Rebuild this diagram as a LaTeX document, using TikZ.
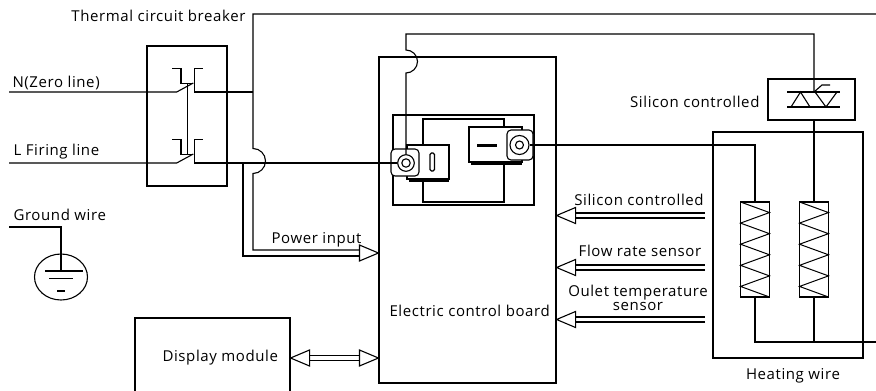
\documentclass[tikz,border=0pt]{standalone}
\usepackage{fontspec}
\setmainfont{Open Sans}[LetterSpace=4]
\begin{document}
\begin{tikzpicture}[x=1pt,y=-1pt,line width=1.1pt,line join=miter,
  box/.style={draw,rectangle,inner sep=0pt,line width=1.1pt},
  lbl/.style={inner sep=0pt,font=\fontsize{15}{16}\selectfont},
  dbl/.style={double,double distance=3.9pt,line width=1.1pt},
  openhead/.pic={\draw[line width=1.1pt,fill=white] (0,0) -- (-19,-8) -- (-19,8) -- cycle;},
  heater/.pic={\draw[line width=1pt] (-14.5,-47.5) -- (14.5,-36.94) -- (-14.5,-26.39) -- (14.5,-15.83) -- (-14.5,-5.28) -- (14.5,5.28) -- (-14.5,15.83) -- (14.5,26.39) -- (-14.5,36.94) -- (14.5,47.5);}
]
\useasboundingbox (0,0) rectangle (876,391);

% ---------- boxes ----------
\node[box,minimum width=80pt,minimum height=140pt] (brk) at (187,116) {};
\node[box,minimum width=177pt,minimum height=326pt] (ctrl) at (467.5,220) {};
\node[box,minimum width=155pt,minimum height=90pt] (disp) at (212.5,363) {};
\node[box,minimum width=87pt,minimum height=41pt] (scr) at (811.5,99.5) {};
\node[box,minimum width=150pt,minimum height=226pt] (heat) at (788,245) {};
\node[box,minimum width=141pt,minimum height=90pt] (tb) at (463.5,160) {};
\node[box,minimum width=81pt,minimum height=83pt] (tbi) at (463.5,160.5) {};

% ---------- labels ----------
\node[lbl,anchor=base east] (tcbl) at (246,21.7) {Thermal circuit breaker};
\node[lbl,anchor=base west] (nl) at (12,87) {N(Zero line)};
\node[lbl,anchor=base west] (ll) at (13,155) {L Firing line};
\node[lbl,anchor=base west] (gl) at (13,220) {Ground wire};
\node[lbl,anchor=base west] (pl) at (271,243.5) {Power input};
\node[lbl,anchor=base west] (cl) at (389,316.5) {Electric control board};
\node[lbl,anchor=base west] (dl) at (162,361.7) {Display module};
\node[lbl,anchor=base east] (scl) at (760,107.3) {Silicon controlled};
\node[lbl,anchor=base] (s1l) at (639,205) {Silicon controlled};
\node[lbl,anchor=base] (s2l) at (640,256.7) {Flow rate sensor};
\node[lbl,align=center,font=\fontsize{15}{13.5}\selectfont] (s3l) at (638,298) {Oulet temperature\\sensor};
\node[lbl,anchor=base] (hl) at (793,379) {Heating wire};

% ---------- breaker contacts ----------
\draw (172.3,68.3) -- (181,68.3) -- (181,83.3) -- (193,83.3);
\draw (202.7,68.3) -- (194.3,68.3) -- (194.3,92);
\draw (172.3,139.3) -- (181,139.3) -- (181,154.3) -- (193,154.3);
\draw (202.7,139.3) -- (194.3,139.3) -- (194.3,163);
\draw (187.7,83.3) -- (187.7,154.3);

% ---------- terminal block ----------
\draw[fill=white] (407,145) rectangle (449,179);
\draw (409,181) -- (449,181);
\draw[fill=white,rounded corners=4pt] (391,149) rectangle (419,176);
\node[circle,draw,fill=white,inner sep=0pt,minimum size=16.6pt] (lc) at (406,163) {};
\draw (406,163) circle[radius=4.2];
\draw[rounded corners=1.5pt] (430,153) rectangle (434.5,171);
\draw[fill=white] (469,127) rectangle (522,162);
\draw (471,164) -- (522,164);
\draw[fill=white,rounded corners=4pt] (507,130) rectangle (533,160);
\node[circle,draw,fill=white,inner sep=0pt,minimum size=19pt] (rc) at (519.5,145) {};
\draw (519.5,145) circle[radius=4];
\draw[line width=3pt] (477,145) -- (497,145);

% ---------- SCR symbol ----------
\draw (787,92) -- (840,92);
\draw (787,107) -- (840,107);
\draw (791,107) -- (800.5,92) -- (810,107);
\draw (815,92) -- (826,107) -- (837,92);
\draw (814,92) -- (822,85) -- (830,85);

% ---------- heaters ----------
\node[box,minimum width=29pt,minimum height=95pt] (r1) at (755,249.5) {};
\node[box,minimum width=29pt,minimum height=95pt] (r2) at (814,249.5) {};
\pic at (r1.center) {heater};
\pic at (r2.center) {heater};

% ---------- wires ----------
\coordinate (tr) at (876,14);
\coordinate (br) at (876,342);
\coordinate (nin) at (9,92);
\coordinate (lin) at (9,163);
\draw (nin) -- (176.7,92) -- (193.3,83);
\draw (194.3,92) -- (253,92);
\draw (lin) -- (176.7,163) -- (193.3,154);
\draw (194.3,163) -- (lc.west);
% thermal breaker line and power input (inner)
\draw (tr) -- (253,14) -- (253,148.5) arc[start angle=-90,end angle=90,radius=12.5] -- (253,250) -- (362,250);
% power input (outer)
\draw (243,163) -- (243,256) -- (362,256);
\pic at (ctrl.west |- 0,253) {openhead};
% wire over board to left terminal
\draw (lc.north) -- (406,73) arc[start angle=90,end angle=-90,radius=11.5] -- (406,34) -- (814,34) -- (814,92);
% right terminal to heater 1
\draw (rc.east) -- (755,145) -- (r1.north);
\draw (r2.north) -- (r2.north |- scr.south);
\draw (r1.south) -- (755,342) -- (br);
\draw (r2.south) -- (814,342);

% ---------- signal arrows ----------
\coordinate (a1) at (705,215.5);
\coordinate (a2) at (705,267.5);
\coordinate (a3) at (705,319.5);
\draw[dbl] (a1) -- (575,215.5);
\draw[dbl] (a2) -- (575,267.5);
\draw[dbl] (a3) -- (575,319.5);
\pic[rotate=180] at (ctrl.east |- a1) {openhead};
\pic[rotate=180] at (ctrl.east |- a2) {openhead};
\pic[rotate=180] at (ctrl.east |- a3) {openhead};
% display link
\draw[dbl] (310,358) -- (362,358);
\pic at (ctrl.west |- 0,358) {openhead};
\pic[rotate=180] at (disp.east |- 0,358) {openhead};

% ---------- ground ----------
\draw (9,227) -- (61,227) -- (61,271);
\draw (61,277) ellipse[x radius=26.5,y radius=23];
\draw (45,271) -- (83,271);
\draw (49,278.5) -- (73,278.5);
\draw (57,291) -- (65,291);
\end{tikzpicture}
\end{document}
